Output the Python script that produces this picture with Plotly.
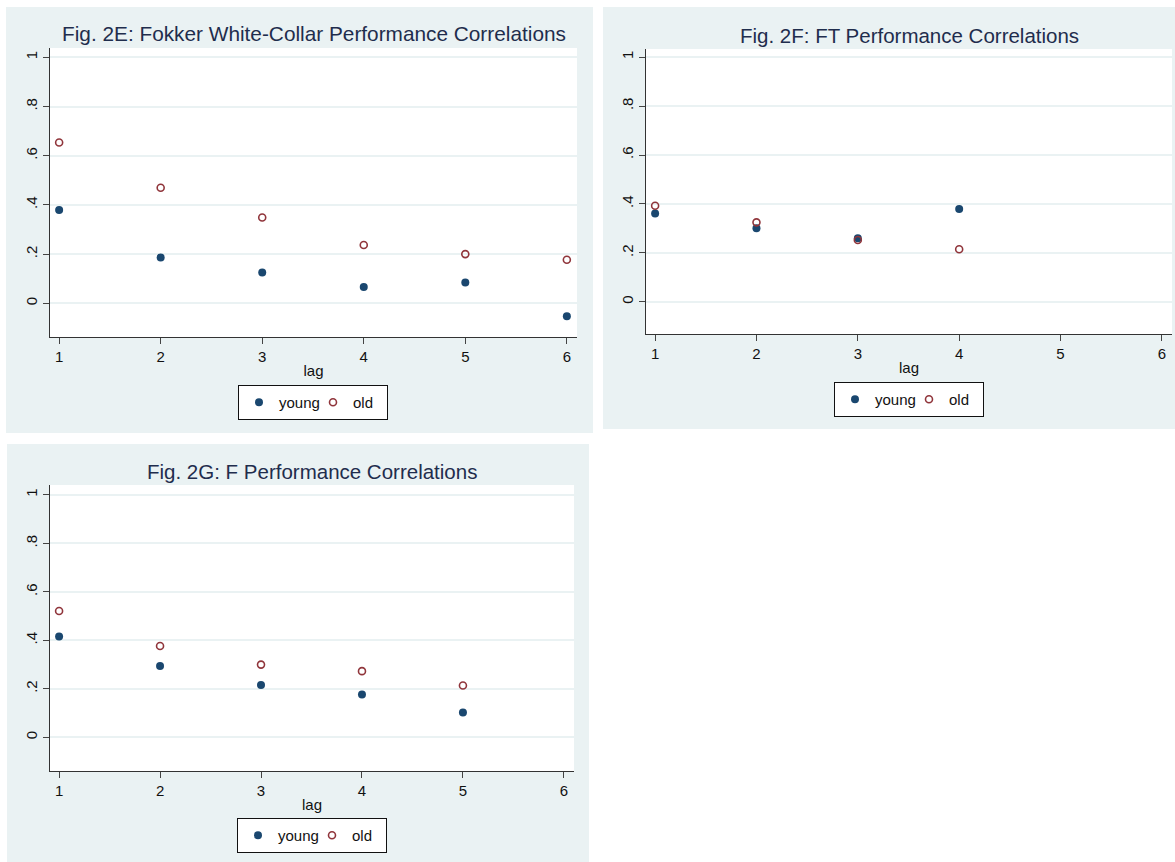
import plotly.graph_objects as go

W, H = 1175, 862

# ---- data ----
lags_e = [1, 2, 3, 4, 5, 6]
young_e = [0.379, 0.186, 0.125, 0.066, 0.085, -0.053]
old_e = [0.654, 0.470, 0.349, 0.237, 0.200, 0.177]

lags_f = [1, 2, 3, 4]
young_f = [0.361, 0.301, 0.260, 0.380]
old_f = [0.393, 0.325, 0.253, 0.215]

lags_g = [1, 2, 3, 4, 5]
young_g = [0.416, 0.294, 0.216, 0.177, 0.102]
old_g = [0.521, 0.377, 0.300, 0.273, 0.214]

titles = ["Fig. 2E: Fokker White-Collar Performance Correlations",
          "Fig. 2F: FT Performance Correlations",
          "Fig. 2G: F Performance Correlations"]
ytick_vals = [0, 0.2, 0.4, 0.6, 0.8, 1]
ytick_text = ["0", ".2", ".4", ".6", ".8", "1"]
xtick_vals = [1, 2, 3, 4, 5, 6]

NAVY = "#1a476f"
MAROON = "#90353b"
BG = "#eaf2f3"
FONT = "Liberation Sans, Arial, sans-serif"

def px(x):
    return x / W

def py(y):
    return 1 - y / H

# panel geometry in pixels: (bg box), (plot box), legend pos
panels = [
    dict(bg=(6, 7, 593, 433), plot=(50, 48, 577, 337), yr=[-0.137, 1.038],
         leg=(313, 385), tsize=20.8),
    dict(bg=(603, 7, 1175, 429), plot=(646, 49, 1172, 334), yr=[-0.131, 1.033],
         leg=(909, 382), tsize=20.5),
    dict(bg=(7, 444, 589, 862), plot=(50, 485, 574, 771), yr=[-0.139, 1.041],
         leg=(312, 818), tsize=20.5),
]
series = [(lags_e, young_e, old_e), (lags_f, young_f, old_f), (lags_g, young_g, old_g)]

fig = go.Figure()
shapes = []
annotations = []
layout = {}
for i, (p, (lx, yv, ov)) in enumerate(zip(panels, series)):
    n = "" if i == 0 else str(i + 1)
    leg = "legend" + n
    xa, ya = "x" + n, "y" + n
    fig.add_trace(go.Scatter(x=lx, y=yv, mode="markers", name="young",
                             xaxis=xa, yaxis=ya, legend=leg,
                             marker=dict(symbol="circle", size=8, color=NAVY)))
    fig.add_trace(go.Scatter(x=lx, y=ov, mode="markers", name="old",
                             xaxis=xa, yaxis=ya, legend=leg,
                             marker=dict(symbol="circle-open", size=7, color=MAROON,
                                         line=dict(width=1.6, color=MAROON))))
    bx0, by0, bx1, by1 = p["bg"]
    shapes.append(dict(type="rect", xref="paper", yref="paper", layer="below",
                       x0=px(bx0), x1=px(bx1), y0=py(by1), y1=py(by0),
                       fillcolor=BG, line=dict(width=0)))
    x0, y0, x1, y1 = p["plot"]
    shapes.append(dict(type="rect", xref="paper", yref="paper", layer="below",
                       x0=px(x0), x1=px(x1), y0=py(y1), y1=py(y0),
                       fillcolor="white", line=dict(width=0)))
    layout["xaxis" + n] = dict(
        domain=[px(x0), px(x1)], anchor=ya, range=[0.91, 6.1],
        tickvals=xtick_vals, ticks="outside", ticklen=6, tickwidth=1,
        tickcolor="#444", showline=True, linecolor="#333", linewidth=1.3,
        showgrid=False, zeroline=False,
        tickfont=dict(family=FONT, size=15, color="#111"),
        title=dict(text="lag", standoff=1,
                   font=dict(family=FONT, size=15, color="#111")),
    )
    layout["yaxis" + n] = dict(
        domain=[py(y1), py(y0)], anchor=xa, range=p["yr"],
        tickvals=ytick_vals, ticktext=ytick_text, tickangle=-90,
        ticks="outside", ticklen=6, tickwidth=1, tickcolor="#444",
        showline=True, linecolor="#333", linewidth=1.3,
        showgrid=True, gridcolor=BG, gridwidth=1.5, zeroline=False,
        tickfont=dict(family=FONT, size=15, color="#111"),
    )
    annotations.append(dict(text=titles[i], xref="paper", yref="paper",
                            x=px((x0 + x1) / 2), y=py(y0 - 14),
                            xanchor="center", yanchor="middle", showarrow=False,
                            font=dict(family=FONT, size=p["tsize"], color="#1f2d4d")))
    lgx, lgy = p["leg"]
    layout[leg] = dict(x=px(lgx), y=py(lgy), xanchor="center", yanchor="top",
                       orientation="h", bgcolor="white", bordercolor="#111",
                       borderwidth=1, font=dict(family=FONT, size=15, color="#111"),
                       itemwidth=30, tracegroupgap=0, entrywidth=29)

fig.update_layout(
    width=W, height=H, margin=dict(l=0, r=0, t=0, b=0),
    paper_bgcolor="white", plot_bgcolor="rgba(0,0,0,0)",
    shapes=shapes, annotations=annotations, showlegend=True,
    **layout,
)
fig.write_html("out.html", config={"displayModeBar": False},
               post_script="document.body.style.margin='0px';document.body.style.overflow='hidden';")
